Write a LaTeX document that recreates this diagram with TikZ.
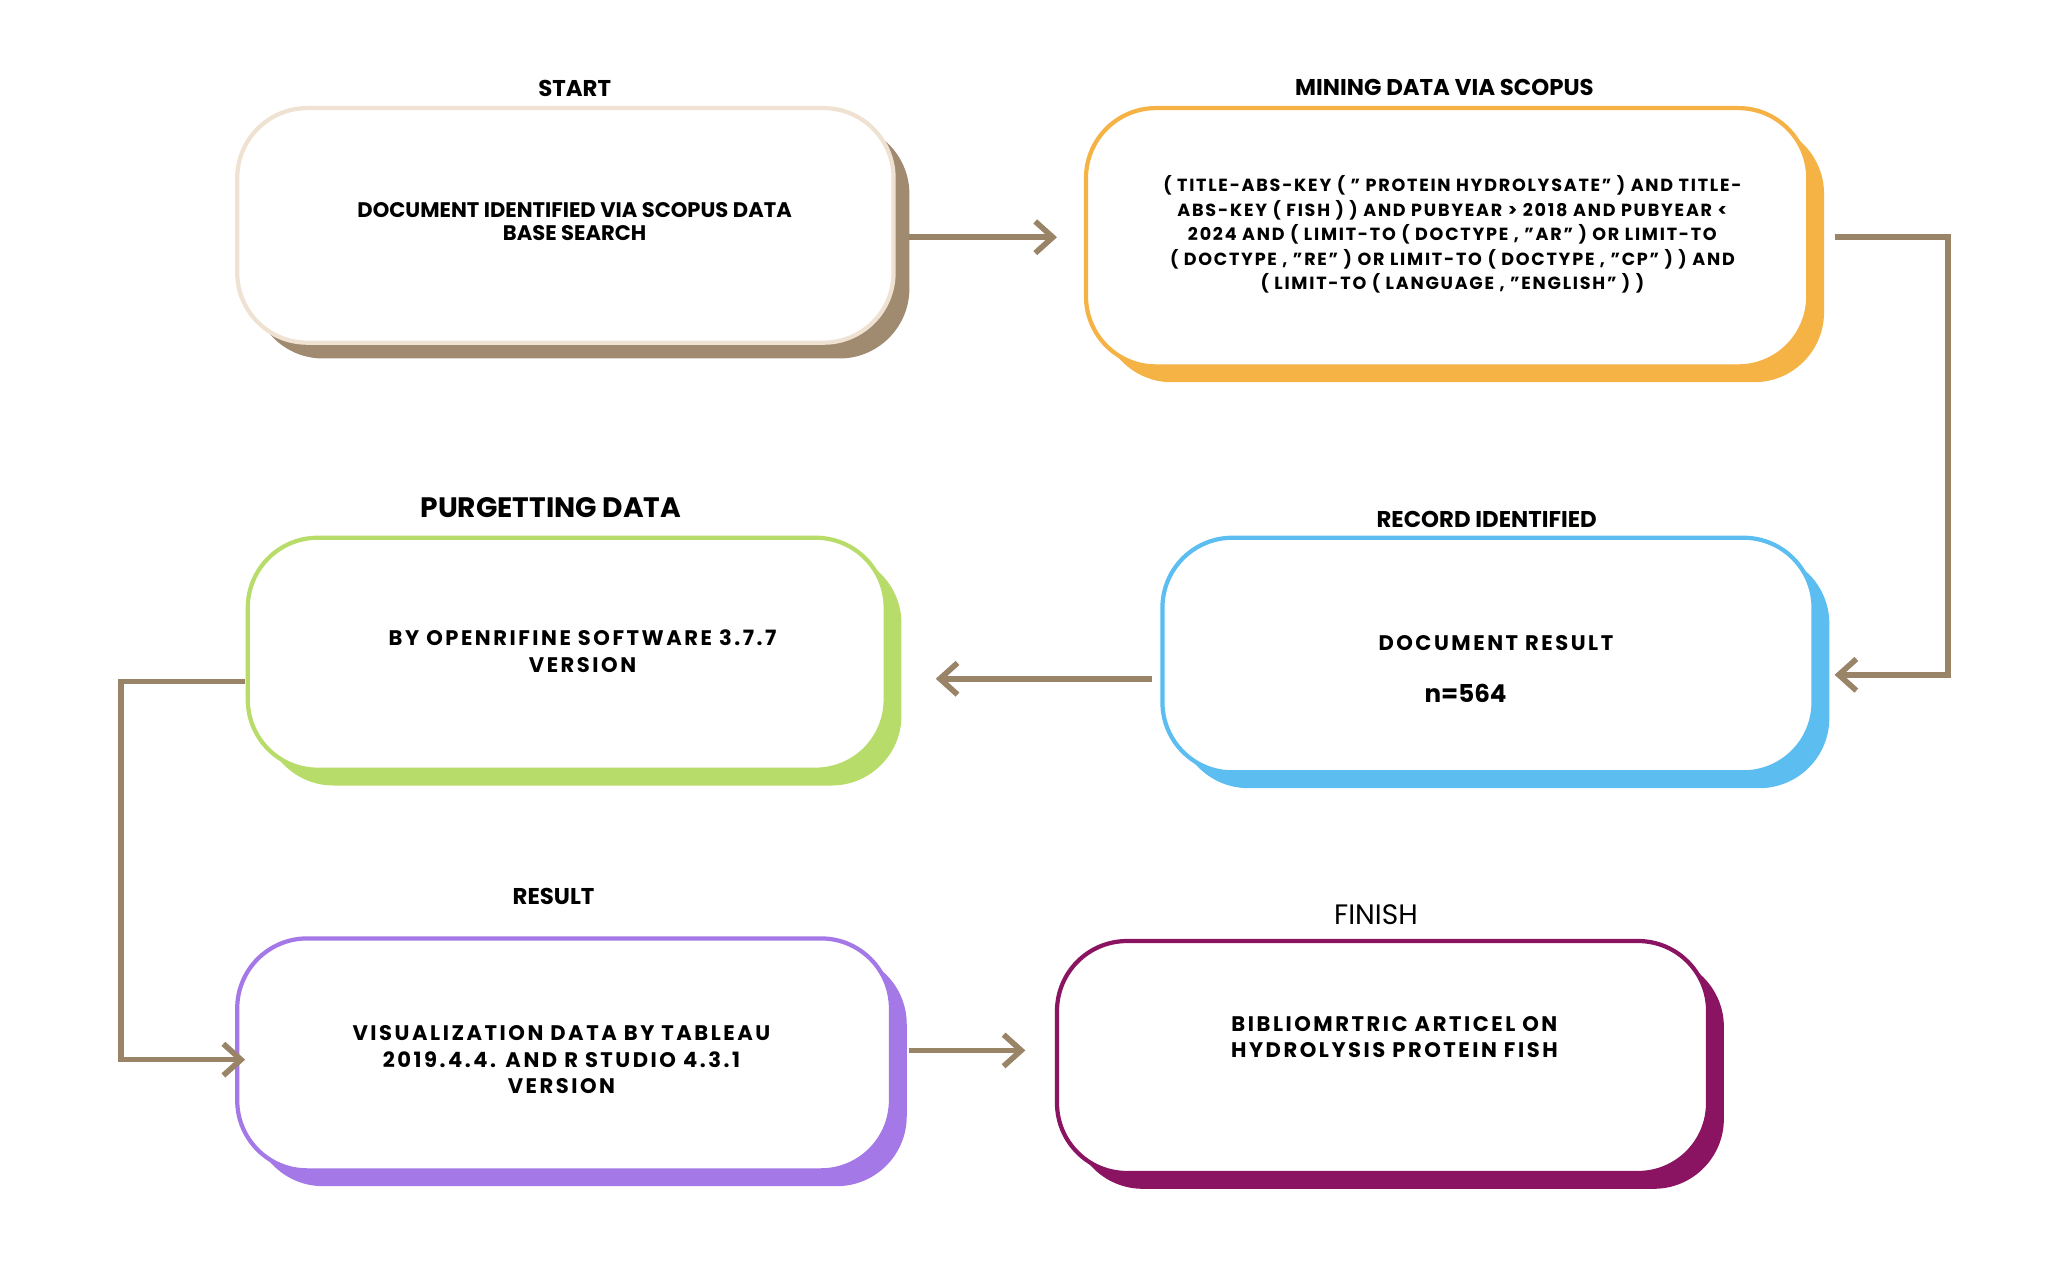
\documentclass[tikz,border=0pt]{standalone}
\usepackage{fontspec}
\setmainfont{Poppins}
\usetikzlibrary{arrows.meta}
\definecolor{arr}{HTML}{9A8468}
\definecolor{cbeige}{HTML}{F0E2D2}
\definecolor{cbrown}{HTML}{A08A70}
\definecolor{corange}{HTML}{F5B245}
\definecolor{cblue}{HTML}{5BBDF0}
\definecolor{cgreen}{HTML}{B8DC6A}
\definecolor{cpurple}{HTML}{A478E6}
\definecolor{cmaroon}{HTML}{8B1462}
\tikzset{
 x=0.01318cm,y=-0.01318cm,
 boxs/.style={rounded corners=0.7cm,line width=1.2pt,fill=white},
 ttl/.style={font=\bfseries\fontsize{6.5}{7}\selectfont},
 txt/.style={font=\bfseries\fontsize{6}{7.5}\selectfont,align=center},
 conn/.style={draw=arr,line width=1.6pt,-{Straight Barb[length=5pt,width=9pt]}}
}
\newcommand{\mybox}[7]{% name x1 y1 x2 y2 border shadow
 \fill[#7,rounded corners=0.7cm] (#2+12,#3+12) rectangle (#4+12,#5+12);
 \draw[boxs,draw=#6] (#2,#3) rectangle (#4,#5);
 \node (#1) at ({(#2+#4)/2},{(#3+#5)/2}) [minimum width={(#4-#2)*0.01318cm},minimum height={(#5-#3)*0.01318cm}] {};
}
\begin{document}
\begin{tikzpicture}
\useasboundingbox (0,0) rectangle (1560,968);
\mybox{a}{180}{82}{678}{260}{cbeige}{cbrown}
\mybox{b}{824}{82}{1372}{278}{corange}{corange}
\mybox{c}{882}{408}{1376}{586}{cblue}{cblue}
\mybox{d}{188}{408}{672}{584}{cgreen}{cgreen}
\mybox{e}{180}{712}{676}{888}{cpurple}{cpurple}
\mybox{f}{802}{714}{1296}{890}{cmaroon}{cmaroon}
\node[ttl] (ta) at (436,67) {START};
\node[ttl] (tb) at (1096,66) {MINING DATA VIA SCOPUS};
\node[ttl,font=\bfseries\fontsize{8}{9}\selectfont] (td) at (418,385) {PURGETTING DATA};
\node[ttl] (tc) at (1128,394) {RECORD IDENTIFIED};
\node[ttl] (te) at (420,680) {RESULT};
\node[font=\fontsize{8}{9}\selectfont] (tf) at (1044,694) {FINISH};
\node[txt,font=\bfseries\fontsize{6}{6.5}\selectfont] (xa) at (436,168) {DOCUMENT IDENTIFIED VIA SCOPUS DATA\\BASE SEARCH};
\node[txt,font=\bfseries\fontsize{5}{7}\selectfont\addfontfeature{LetterSpace=10}] (xb) at (1102,178) {( TITLE-ABS-KEY ( " PROTEIN HYDROLYSATE" ) AND TITLE-\\ABS-KEY ( FISH ) ) AND PUBYEAR > 2018 AND PUBYEAR <\\2024 AND ( LIMIT-TO ( DOCTYPE , "AR" ) OR LIMIT-TO\\( DOCTYPE , "RE" ) OR LIMIT-TO ( DOCTYPE , "CP" ) ) AND\\( LIMIT-TO ( LANGUAGE , "ENGLISH" ) )};
\node[txt] (xc) at (1135,488) {\addfontfeature{LetterSpace=12}DOCUMENT RESULT};
\node[txt,font=\bfseries\fontsize{7}{8}\selectfont] (xc2) at (1112,526) {n=564};
\node[txt] (xd) at (442,494) {\addfontfeature{LetterSpace=12}BY OPENRIFINE SOFTWARE 3.7.7\\\addfontfeature{LetterSpace=12}VERSION};
\node[txt] (xe) at (426,804) {\addfontfeature{LetterSpace=12}VISUALIZATION DATA BY TABLEAU\\\addfontfeature{LetterSpace=12}2019.4.4. AND R STUDIO 4.3.1\\\addfontfeature{LetterSpace=12}VERSION};
\node[txt] (xf) at (1058,787) {\addfontfeature{LetterSpace=12}BIBLIOMRTRIC ARTICEL ON\\\addfontfeature{LetterSpace=12}HYDROLYSIS PROTEIN FISH};
\coordinate (p1) at (1478,180); \coordinate (p2) at (1478,512);
\coordinate (q1) at (92,517); \coordinate (q2) at (92,804);
\draw[conn] (690,180) -- (802,180);
\draw[conn] (1392,180) -- (p1) -- (p2) -- (1392,512);
\draw[conn] (874,515) -- (710,515);
\draw[conn] (186,517) -- (q1) -- (q2) -- (186,804);
\draw[conn] (690,797) -- (778,797);
\end{tikzpicture}
\end{document}
